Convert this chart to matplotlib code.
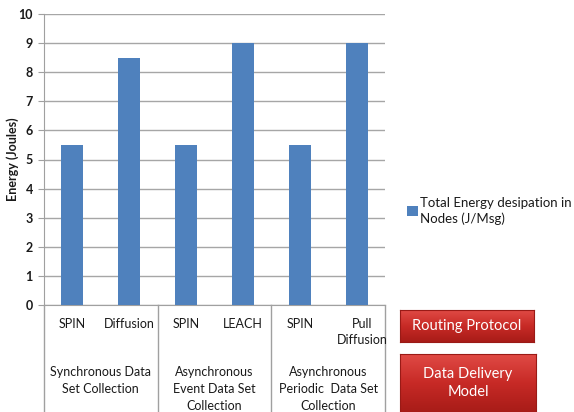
import matplotlib.pyplot as plt
import numpy as np
from matplotlib.lines import Line2D
from matplotlib.colors import LinearSegmentedColormap

# Data
protocols = ["SPIN", "Diffusion", "SPIN", "LEACH", "SPIN", "Pull\nDiffusion"]
energy = [5.5, 8.5, 5.5, 9.0, 5.5, 9.0]
groups = ["Synchronous Data\nSet Collection",
          "Asynchronous\nEvent Data Set\nCollection",
          "Asynchronous\nPeriodic  Data Set\nCollection"]
series_label = "Total Energy desipation in\nNodes (J/Msg)"

plt.rcParams["font.family"] = ["Lato", "DejaVu Sans"]

fig = plt.figure(figsize=(5.74, 4.12), dpi=100)
ax = fig.add_axes([44 / 574, 1 - 305 / 412, 341 / 574, 291 / 412])

x = np.arange(len(energy))
ax.bar(x, energy, width=0.39, color="#4F81BD", label=series_label, zorder=3)

ax.set_xlim(-0.5, len(energy) - 0.5)
ax.set_ylim(0, 10)
ax.set_yticks(range(0, 11))
ax.tick_params(axis="y", labelsize=9, length=4, color="#A0A0A0", pad=4,
               labelcolor="#1a1a1a")
for t in ax.get_yticklabels():
    t.set_fontweight("bold")
ax.set_xticks([])
ax.grid(axis="y", color="#A6A6A6", linewidth=1, zorder=0)
for s in ["top", "right"]:
    ax.spines[s].set_visible(False)
ax.spines["left"].set_color("#A0A0A0")
ax.spines["bottom"].set_color("#A0A0A0")
ax.set_ylabel("Energy (Joules)", fontsize=9, fontweight="bold", color="#1a1a1a")
ax.yaxis.set_label_coords(-0.073, 0.5)


# Multi-level category axis drawn below the plot
def ay(py):
    return (305 - py) / 291


trans = ax.get_xaxis_transform()
for i, lab in enumerate(protocols):
    two = "\n" in lab
    ax.text(x[i] + (0.1 if two else 0), ay(332 if two else 324), lab,
            transform=trans, ha="center", va="center", fontsize=9,
            color="#1a1a1a", linespacing=1.35)

for g, lab in enumerate(groups):
    ax.text(2 * g + 0.5, ay(366), lab, transform=trans, ha="center", va="top",
            fontsize=9, color="#1a1a1a", linespacing=1.5)

for b in [-0.5, 1.5, 3.5, 5.5]:
    ax.add_line(Line2D([b, b], [0, ay(412)], transform=trans, color="#A0A0A0",
                       linewidth=1, clip_on=False))

# Legend
ax.legend(loc="center left", bbox_to_anchor=(407 / 574, 1 - 211 / 412),
          bbox_transform=fig.transFigure, frameon=False,
          prop={"size": 9.5}, labelcolor="#1a1a1a",
          handlelength=0.8, handleheight=0.8, handletextpad=0.2,
          borderaxespad=0, borderpad=0)
for t in ax.get_legend().get_texts():
    t.set_linespacing(1.35)

# Red buttons
grad = np.linspace(0, 1, 100).reshape(-1, 1)
red = LinearSegmentedColormap.from_list("red", ["#E04A45", "#C72A26", "#A81C18"])
buttons = [("Routing Protocol", [400 / 574, 1 - 342 / 412, 134 / 574, 32 / 412]),
           ("Data Delivery\nModel", [400 / 574, 0, 136 / 574, 58 / 412])]
for text, rect in buttons:
    bax = fig.add_axes(rect)
    bax.imshow(grad, aspect="auto", cmap=red, extent=[0, 1, 0, 1])
    bax.set_xticks([])
    bax.set_yticks([])
    for s in bax.spines.values():
        s.set_color("#9A1A16")
    bax.text(0.5, 0.5, text, ha="center", va="center", color="white",
             fontsize=10.5, transform=bax.transAxes, linespacing=1.35)

fig.savefig("out.png", dpi=100)
